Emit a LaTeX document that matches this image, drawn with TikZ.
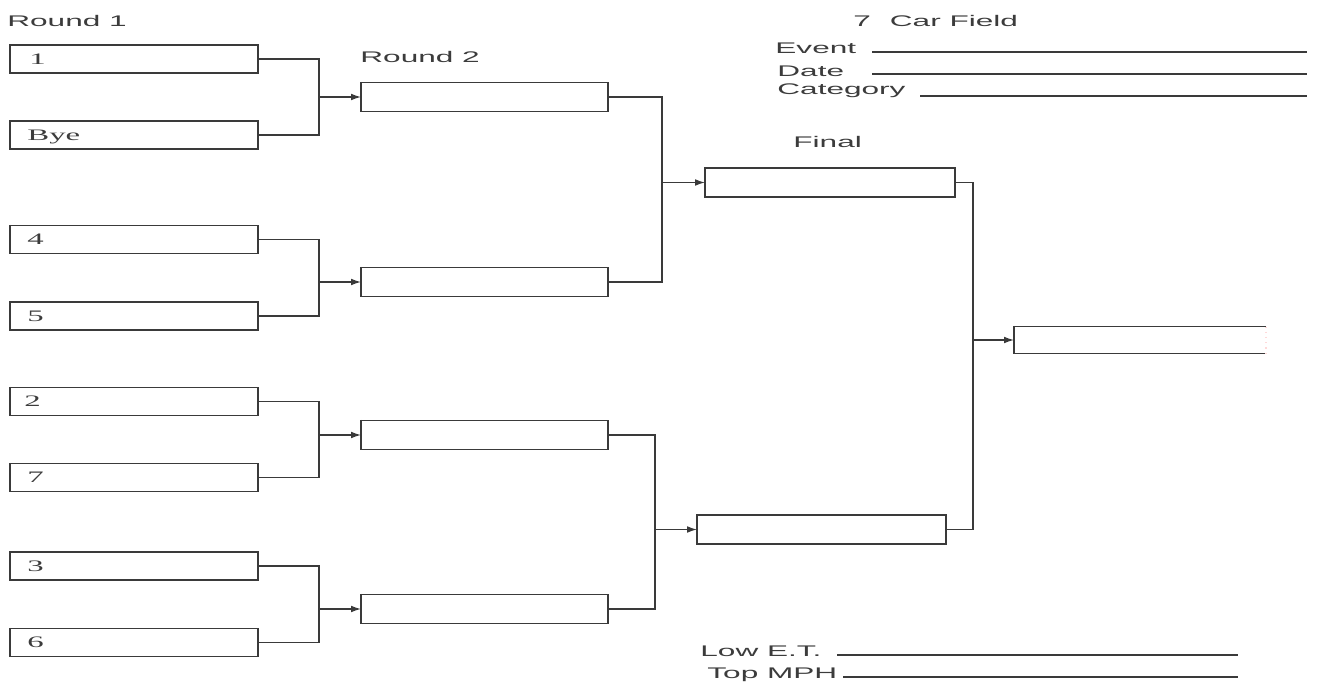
\documentclass[tikz,border=0pt]{standalone}
\usepackage{fontspec}
\setmainfont{Liberation Serif}
\newfontfamily\arialf{Liberation Sans}
\usetikzlibrary{arrows.meta}
\definecolor{ink}{HTML}{3A3A3A}
\definecolor{txt}{HTML}{3C3C3C}
\newcommand{\hs}[1]{\scalebox{2.05}[1]{#1}}
\tikzset{
  box/.style={draw=ink, line width=0.7pt, minimum height=14pt, inner sep=0pt, outer sep=0pt},
  rone/.style={box, minimum width=124pt},
  rtwo/.style={box, minimum width=123.5pt, minimum height=14.5pt},
  conn/.style={draw=ink, line width=0.65pt},
  arr/.style={conn, -{Latex[length=5pt,width=3.4pt]}},
  head/.style={anchor=base west, inner sep=0pt, text=txt, font=\arialf\fontsize{7.7}{9}\selectfont},
  seed/.style={anchor=base west, inner sep=0pt, text=txt, font=\fontsize{8}{9}\selectfont},
  rule/.style={draw=ink, line width=0.6pt}
}
\begin{document}
\begin{tikzpicture}[x=0.5pt,y=-0.5pt]
\useasboundingbox (0,0) rectangle (1317,691);
% round 1 boxes
\node[rone] (a1) at (134,59) {};
\node[rone] (a2) at (134,135) {};
\node[rone] (a3) at (134,239.5) {};
\node[rone] (a4) at (134,316) {};
\node[rone] (a5) at (134,401.5) {};
\node[rone] (a6) at (134,477.5) {};
\node[rone] (a7) at (134,566) {};
\node[rone] (a8) at (134,642.5) {};
\node[seed] (s1) at (29,64) {\hs{1}};
\node[seed] (s2) at (27,140) {\hs{Bye}};
\node[seed] (s3) at (27,244) {\hs{4}};
\node[seed] (s4) at (27,321) {\hs{5}};
\node[seed] (s5) at (24,406) {\hs{2}};
\node[seed] (s6) at (27,482) {\hs{7}};
\node[seed] (s7) at (27,571) {\hs{3}};
\node[seed] (s8) at (27,647) {\hs{6}};
% round 2 boxes
\node[rtwo] (b1) at (484.5,97) {};
\node[rtwo] (b2) at (484.5,282) {};
\node[rtwo] (b3) at (484.5,435) {};
\node[rtwo] (b4) at (484.5,609) {};
% final boxes
\node[rtwo, minimum width=125pt] (c1) at (830,182.5) {};
\node[rtwo, minimum width=124.5pt] (c2) at (821.5,529.5) {};
% winner box
\node[inner sep=0pt, outer sep=0pt, minimum width=126pt, minimum height=13.5pt] (w) at (1140,340) {};
\draw[draw=ink, line width=0.7pt] (w.north east) -- (w.north west) -- (w.south west) -- (w.south east);
\draw[draw=pink!60, line width=0.6pt, dotted] (w.north east) -- (w.south east);
% thicker left edges
\foreach \n in {a1,a2,a3,a4,a5,a6,a7,a8,b1,b2,b3,b4,c1,c2,w}
  \draw[draw=ink, line width=1.1pt] ([yshift=0.3pt]\n.north west) -- ([yshift=-0.3pt]\n.south west);
% junctions
\coordinate (j1) at (319,97);
\coordinate (j2) at (319,282);
\coordinate (j3) at (319,435);
\coordinate (j4) at (319,609);
\coordinate (k1) at (662,182.5);
\coordinate (k2) at (655,529.5);
\coordinate (m1) at (973,340);
\draw[conn] (a1.east) -| (j1); \draw[conn] (a2.east) -| (j1); \draw[arr] (j1) -- (b1.west);
\draw[conn] (a3.east) -| (j2); \draw[conn] (a4.east) -| (j2); \draw[arr] (j2) -- (b2.west);
\draw[conn] (a5.east) -| (j3); \draw[conn] (a6.east) -| (j3); \draw[arr] (j3) -- (b3.west);
\draw[conn] (a7.east) -| (j4); \draw[conn] (a8.east) -| (j4); \draw[arr] (j4) -- (b4.west);
\draw[conn] (b1.east) -| (k1); \draw[conn] (b2.east) -| (k1); \draw[arr] (k1) -- (c1.west);
\draw[conn] (b3.east) -| (k2); \draw[conn] (b4.east) -| (k2); \draw[arr] (k2) -- (c2.west);
\draw[conn] (c1.east) -| (m1); \draw[conn] (c2.east) -| (m1); \draw[arr] (m1) -- (w.west);
% headings
\node[head] (t1) at (7,26) {\hs{Round 1}};
\node[head] (t2) at (360,62) {\hs{Round 2}};
\node[head] (t3) at (793,147) {\hs{Final}};
\node[head] (t4) at (853,26) {\hs{7\hspace{0.6em}Car Field}};
\node[head] (t5) at (775,53) {\hs{Event}};
\node[head] (t6) at (777,76) {\hs{Date}};
\node[head] (t7) at (777,94) {\hs{Category}};
\node[head] (t8) at (700,656) {\hs{Low E.T.}};
\node[head] (t9) at (707,678) {\hs{Top MPH}};
% blanks
\draw[rule] (872,52) -- (1307,52);
\draw[rule] (872,74) -- (1307,74);
\draw[rule] (920,96) -- (1307,96);
\draw[rule] (837,655) -- (1238,655);
\draw[rule] (843,677) -- (1238,677);
\end{tikzpicture}
\end{document}
